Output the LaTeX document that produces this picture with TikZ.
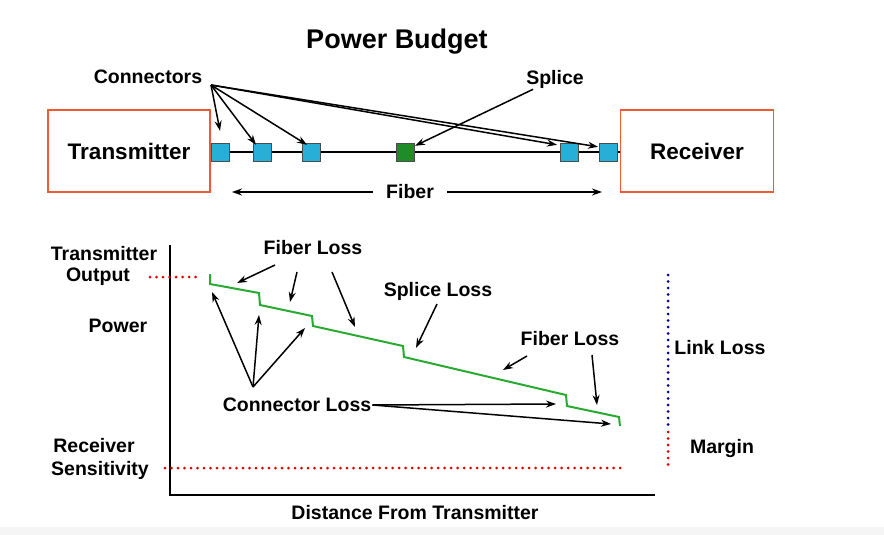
\documentclass[tikz,border=0pt]{standalone}
\usepackage{fontspec}
\setmainfont{Liberation Sans}
\usetikzlibrary{arrows.meta}
\definecolor{boxred}{RGB}{240,90,50}
\definecolor{conblue}{RGB}{40,175,215}
\definecolor{splgreen}{RGB}{30,140,40}
\definecolor{curvegreen}{RGB}{40,170,50}
\begin{document}
\begin{tikzpicture}[
    x = 1pt, y = -1pt,
    >={Stealth[length=10pt,width=7pt]},
    %
    label/.style = {font = \bfseries\fontsize{19.5}{21}\selectfont, inner sep = 1pt},
    unit/.style = {draw = boxred, line width = 1.5pt, minimum width = 162pt,
      minimum height = 82pt, font = \bfseries\fontsize{22.5}{24}\selectfont},
    conn/.style = {draw = black!70, fill = conblue, minimum size = 18pt, inner sep = 0pt},
    splice/.style = {draw = black!70, fill = splgreen, minimum size = 18pt, inner sep = 0pt},
    pointer/.style = {->, line width = 1.5pt},
    level/.style = {red!90!black, line width = 3pt, line cap = round, dash pattern = on 0pt off 6.5pt},
    ]

    \useasboundingbox (0, 0) rectangle (884, 535);
    \fill [black!4] (0, 527) rectangle (884, 535);

    \node at (397, 42) [font = \bfseries\fontsize{27}{29}\selectfont, name = title] {Power Budget};

    % link
    \node at (129, 151) [unit, name = tx] {Transmitter};
    \node at (697, 151) [unit, minimum width = 153pt, name = rx] {Receiver};
    \draw [line width = 1.5pt] (tx.east |- 0, 152) -- (rx.west |- 0, 152);

    \node at (220, 152) [conn, name = c1] {};
    \node at (262, 152) [conn, name = c2] {};
    \node at (311, 152) [conn, name = c3] {};
    \node at (405, 152) [splice, name = sp] {};
    \node at (569, 152) [conn, name = c4] {};
    \node at (608, 152) [conn, name = c5] {};

    \node at (148, 77) [label, name = connectors] {Connectors};
    \coordinate (cfrom) at (211, 85);
    \draw [pointer] (cfrom) -- ([yshift = 12pt] c1.north);
    \draw [pointer] (cfrom) -- ([xshift = -6pt, yshift = -2pt] c2.north);
    \draw [pointer] (cfrom) -- ([xshift = -4pt, yshift = -2pt] c3.north);
    \draw [pointer] (cfrom) -- ([xshift = -12pt, yshift = -2pt] c4.north);
    \draw [pointer] (cfrom) -- ([xshift = -10pt, yshift = -4pt] c5.north);

    \node at (555, 79) [label, name = splicelabel] {Splice};
    \draw [pointer] ([xshift = 8pt] splicelabel.south west) -- ([xshift = 10pt, yshift = -3pt] sp.north);

    \node at (410, 192) [label, name = fiber] {Fiber};
    \draw [pointer] (fiber.west) ++(-12, 0) -- (232, 192);
    \draw [pointer] (fiber.east) ++(12, 0) -- (602, 192);

    % chart
    \coordinate (origin) at (170, 495);
    \draw [line width = 1.5pt] (170, 245) -- (origin) -- (655, 495);
    \node at (415, 513) [label, name = xaxis] {Distance From Transmitter};
    \node at (104, 254) [label, name = txout1] {Transmitter};
    \node at (98, 277) [label, name = txout2] {Output};
    \node at (118, 326) [label, name = power] {Power};
    \node at (94, 446) [label, name = rxsens1] {Receiver};
    \node at (100, 470) [label, name = rxsens2] {Sensitivity};
    \draw [level] (150, 277) -- (198, 277);
    \draw [level] (165, 468) -- (622, 468);
    \draw [level, blue!60!black] (668, 275) -- (668, 425);
    \draw [level] (668, 432) -- (668, 465);
    \node at (720, 348) [label, name = linkloss] {Link Loss};
    \node at (722, 448) [label, name = margin] {Margin};

    \draw [curvegreen, line width = 2pt]
      (210, 274) -- (210, 284) -- (259, 293) -- (260, 305) -- (312, 316) -- (313, 326)
      -- (403, 346) -- (404, 357) -- (566, 395) -- (567, 406) -- (619, 417) -- (620, 426);

    \node at (313, 248) [label, name = fl1] {Fiber Loss};
    \draw [pointer] (275, 265) -- (237, 283);
    \draw [pointer] (297, 272) -- (290, 302);
    \draw [pointer] (332, 272) -- (355, 327);

    \node at (438, 291) [label, name = slabel] {Splice Loss};
    \draw [pointer] (437, 304) -- (416, 348);

    \node at (570, 339) [label, name = fl2] {Fiber Loss};
    \draw [pointer] (527, 356) -- (503, 370);
    \draw [pointer] (592, 355) -- (597, 405);

    \node at (297, 405) [label, name = cl] {Connector Loss};
    \coordinate (clfrom) at (253, 387);
    \draw [pointer] (clfrom) -- (212, 292);
    \draw [pointer] (clfrom) -- (259, 315);
    \draw [pointer] (clfrom) -- (305, 328);
    \draw [pointer] (cl.east) -- (556, 404);
    \draw [pointer] (cl.east) -- (611, 424);

  \end{tikzpicture}
\end{document}
